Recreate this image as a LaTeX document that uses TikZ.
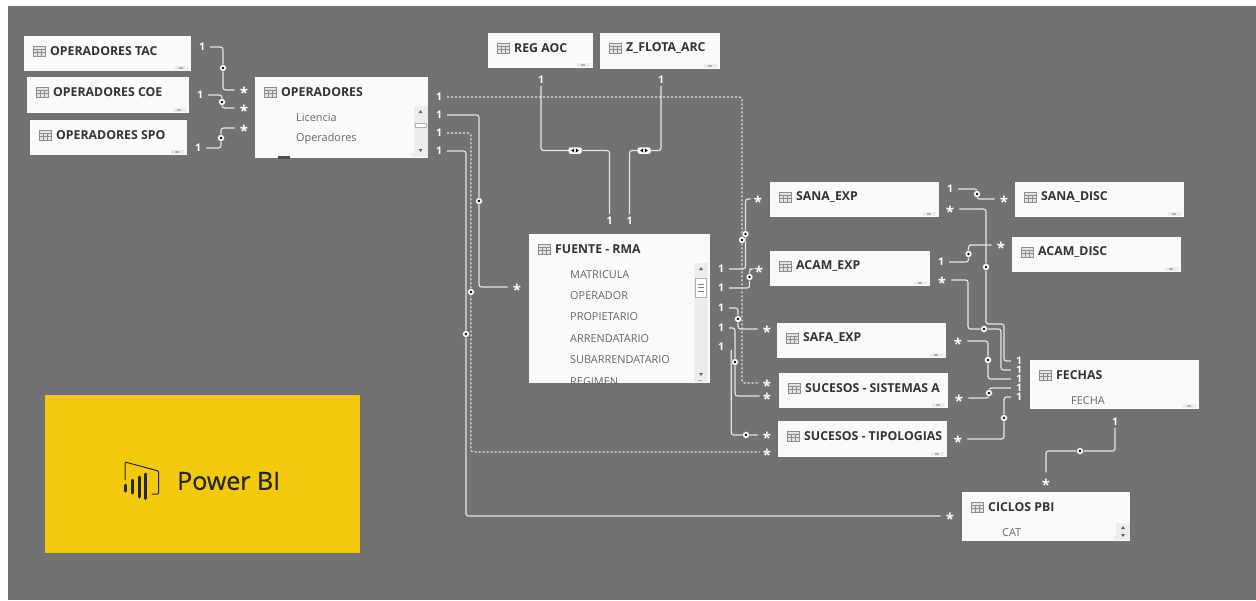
\documentclass[tikz,border=0pt]{standalone}
\usepackage{fontspec}
\setmainfont{Open Sans}
\newfontfamily\pbifont[FakeBold=0.5]{Open Sans}
\definecolor{bggray}{HTML}{727272}
\definecolor{cardw}{HTML}{FAFAFA}
\definecolor{titlec}{HTML}{333333}
\definecolor{fieldc}{HTML}{666666}
\definecolor{pbiy}{HTML}{F2C90F}
\definecolor{linec}{HTML}{E4E4E4}
\definecolor{iconc}{HTML}{8E8E8E}
\newcommand{\mst}{\raisebox{-8.2pt}[0pt][0pt]{*}}
\tikzset{
  x=1pt,y=-1pt,
  cardbox/.style={fill=cardw,draw=none,inner sep=0,outer sep=0},
  cardtitle/.style={font=\fontsize{12.3}{13}\selectfont\bfseries,text=titlec,anchor=west,inner sep=0},
  fieldtext/.style={font=\fontsize{10.9}{12}\selectfont,text=fieldc,anchor=west,inner sep=0},
  rel/.style={draw=linec,line width=1.2pt,rounded corners=2.5pt},
  reldash/.style={rel,dash pattern=on 2pt off 2pt},
  one/.style={font=\fontsize{10.5}{11}\selectfont\bfseries,text=white,inner sep=0},
  many/.style={font=\fontsize{15}{10}\selectfont\bfseries,text=white,inner sep=0},
  dotm/.style={circle,draw=black!55,fill=white,line width=.4pt,minimum size=7pt,inner sep=0},
  bothm/.style={rounded corners=1.5pt,fill=white,minimum width=13pt,minimum height=6.5pt,inner sep=0},
  pbitext/.style={font=\pbifont\fontsize{25}{26}\selectfont,text=black!85,anchor=west,inner sep=0},
}
% \card{name}{x1}{y1}{x2}{y2}{title}
\newcommand{\card}[6]{%
  \node[cardbox,minimum width=#4pt-#2pt,minimum height=#5pt-#3pt,anchor=north west] (#1) at (#2,#3) {};
  \begin{scope}
    \clip (#2,#3) rectangle (#4-6,#5);
    \draw[iconc,fill=gray!22,line width=.5pt] (#2+9,#3+10) rectangle ++(12,10);
    \draw[iconc,line width=.5pt] (#2+9,#3+12.8) -- ++(12,0) (#2+9,#3+16.4) -- ++(12,0) (#2+13,#3+12.8) -- ++(0,7.2) (#2+17,#3+12.8) -- ++(0,7.2);
    \node[cardtitle] (#1t) at (#2+26,#3+15) {#6};
  \end{scope}
  \fill[gray!15] (#4-16,#5-5) rectangle ++(13,4);
  \fill[gray!60] (#4-12,#5-4) rectangle ++(4,2.4);
}
% \scrollbar{x}{y1}{y2}{thumb y}{thumb h}
\newcommand{\scrollbar}[5]{%
  \fill[gray!14] (#1,#2) rectangle (#1+14,#3);
  \fill[gray!80!black] (#1+7,#2+4) -- ++(2,3) -- ++(-4,0) -- cycle;
  \fill[gray!80!black] (#1+7,#3-4) -- ++(2,-3) -- ++(-4,0) -- cycle;
  \draw[gray!60,fill=white,line width=.5pt] (#1+1.5,#4) rectangle ++(11,#5);
}
\begin{document}
\begin{tikzpicture}
\useasboundingbox (0,0) rectangle (1256,600);
\fill[white] (0,0) rectangle (1256,600);
\fill[bggray] (8,6) rectangle (1256,600);

% Power BI tile
\node[fill=pbiy,minimum width=315pt,minimum height=158pt,inner sep=0,anchor=north west] (pbi) at (45,395) {};
\node[pbitext] (pbit) at (177,481) {Power BI};
\draw[black!85,line width=1pt,rounded corners=1pt] (125,480) -- (125,462) -- (158.5,471) -- (158.5,494) -- (151.5,494);
\foreach \xx/\ya/\yb in {125/485/491,132/480/493,139/477/497,145.7/474/498.5}{
  \draw[black!85,line width=3pt,line cap=round] (\xx,\ya) -- (\xx,\yb);}

% cards
\card{tac}{24}{36}{191}{71}{OPERADORES TAC}
\card{coe}{27}{77}{189}{113}{OPERADORES COE}
\card{spo}{30}{120}{187}{155}{OPERADORES SPO}
\card{ops}{255}{77}{428}{158}{OPERADORES}
\card{reg}{488}{33}{593}{68}{REG AOC}
\card{zfl}{600}{33}{720}{69}{Z\_FLOTA\_ARC}
\card{fue}{529}{234}{710}{383}{FUENTE - RMA}
\card{sanae}{770}{182}{939}{217}{SANA\_EXP}
\card{acame}{770}{251}{930}{286}{ACAM\_EXP}
\card{safa}{777}{323}{946}{358}{SAFA\_EXP}
\card{sist}{779}{373}{948}{408}{SUCESOS - SISTEMAS A}
\card{tipo}{778}{421}{947}{457}{SUCESOS - TIPOLOGIAS}
\card{sanad}{1015}{182}{1184}{217}{SANA\_DISC}
\card{acamd}{1012}{237}{1181}{272}{ACAM\_DISC}
\card{fech}{1030}{360}{1199}{409}{FECHAS}
\card{cic}{962}{492}{1130}{541}{CICLOS PBI}

% fields
\begin{scope}
  \clip (255,77) rectangle (428,158);
  \node[fieldtext] (f1) at (296,117.5) {Licencia};
  \node[fieldtext] (f2) at (296,139) {Operadores};
  \fill[black!70] (278,155.5) rectangle ++(12,3);
  \node[fieldtext,text=gray] (f3) at (296,163) {Plan};
\end{scope}
\begin{scope}
  \clip (529,234) rectangle (710,383);
  \node[fieldtext] (m1) at (570,274.5) {MATRICULA};
  \node[fieldtext] (m2) at (570,296) {OPERADOR};
  \node[fieldtext] (m3) at (570,317) {PROPIETARIO};
  \node[fieldtext] (m4) at (570,338.5) {ARRENDATARIO};
  \node[fieldtext] (m5) at (570,360) {SUBARRENDATARIO};
  \node[fieldtext] (m6) at (570,381.5) {REGIMEN};
\end{scope}
\node[fieldtext] (ff) at (1071,400.5) {FECHA};
\node[fieldtext] (fc) at (1002,533) {CAT};
\scrollbar{413.5}{106}{156}{123}{4}
\scrollbar{694}{263}{380}{278}{19}
\draw[gray,line width=.5pt] (698,284) -- ++(6,0) (698,287.5) -- ++(6,0) (698,291) -- ++(6,0);
\fill[gray!14] (1116,523) rectangle (1130,540);
\fill[gray!80!black] (1123,526) -- ++(2,3) -- ++(-4,0) -- cycle;
\fill[gray!80!black] (1123,537) -- ++(2,-3) -- ++(-4,0) -- cycle;

% cardinality labels
\node[one] (a1) at (202,47) {1};
\node[many] (a2) at (244,90) {\mst};
\node[one] (b1) at (200,95) {1};
\node[many] (b2) at (244,108) {\mst};
\node[one] (c1) at (198,148) {1};
\node[many] (c2) at (244,128) {\mst};
\node[one] (o1) at (439,97) {1};
\node[one] (o2) at (439,115) {1};
\node[one] (o3) at (439,133) {1};
\node[one] (o4) at (439,151) {1};
\node[many] (ot) at (517,287) {\mst};
\node[many] (sd1) at (767,383) {\mst};
\node[many] (sd2) at (767,452) {\mst};
\node[many] (cs) at (950,516) {\mst};
\node[one] (r1) at (541,80) {1};
\node[one] (r2) at (609.5,221) {1};
\node[one] (z1) at (661,80) {1};
\node[one] (z2) at (629.5,221) {1};
\node[one] (e1) at (721,269) {1};
\node[one] (e2) at (721,288) {1};
\node[one] (e3) at (721,308) {1};
\node[one] (e4) at (721,328) {1};
\node[one] (e5) at (721,347) {1};
\node[many] (t1) at (758,199) {\mst};
\node[many] (t2) at (759,269) {\mst};
\node[many] (t3) at (767,329) {\mst};
\node[many] (t4) at (767,396) {\mst};
\node[many] (t5) at (767,435) {\mst};
\node[one] (g1) at (950,189) {1};
\node[many] (g2) at (1004,199) {\mst};
\node[one] (h1) at (941,262) {1};
\node[many] (h2) at (1001,245) {\mst};
\node[many] (i1) at (950,209) {\mst};
\node[many] (j1) at (942,280) {\mst};
\node[many] (k1) at (958,341) {\mst};
\node[many] (l1) at (959,398) {\mst};
\node[many] (n1) at (958,439) {\mst};
\node[one] (i2) at (1019,361) {1};
\node[one] (j2) at (1019,370) {1};
\node[one] (k2) at (1019,379) {1};
\node[one] (l2) at (1019,388) {1};
\node[one] (n2) at (1019,397) {1};
\node[one] (p1) at (1115,422) {1};
\node[many] (p2) at (1046,482) {\mst};

% marker positions
\foreach \nm/\xx/\yy in {ma/223/68,mb/222/102,mc/221/138,md/742/240,me/479/201,mf/471/292,mg/466/334,mh/745.5/234,mi/749.5/277,mj/738/319,mk/735/362,ml/746/435,mm/977/194,mn/986/267,mo/968.5/254,mp/984/329,mq/988/360,mr/989/393,ms/1004/418,mt/1080/451,mu/575/150.5,mv/644/150.5}{
  \coordinate (\nm) at (\xx,\yy);}
\coordinate (wj1) at (968,329);
\coordinate (wj2) at (1001,329);
\coordinate (wi) at (1004,324);

% connectors
\draw[rel] ([xshift=5pt]a1.east) -| (ma) |- ([xshift=-5pt]a2.west);
\draw[rel] ([xshift=5pt]b1.east) -| (mb) |- ([xshift=-5pt]b2.west);
\draw[rel] ([xshift=5pt]c1.east) -| (mc) |- ([xshift=-5pt]c2.west);
\draw[reldash] ([xshift=5pt]o1.east) -| (md) |- ([xshift=-3pt]sd1.west);
\draw[rel] ([xshift=5pt]o2.east) -| (me) |- ([xshift=-5pt]ot.west);
\draw[reldash] ([xshift=5pt]o3.east) -| (mf) |- ([xshift=-3pt]sd2.west);
\draw[rel] ([xshift=5pt]o4.east) -| (mg) |- ([xshift=-5pt]cs.west);
\draw[rel] ([yshift=-2pt]r1.south) |- (mu) -| ([yshift=3pt]r2.north);
\draw[rel] ([yshift=-2pt]z1.south) |- (mv) -| ([yshift=3pt]z2.north);
\draw[rel] ([xshift=5pt]e1.east) -| (mh) |- ([xshift=-3pt]t1.west);
\draw[rel] ([xshift=5pt]e2.east) -| (mi) |- ([xshift=-5pt]t2.west);
\draw[rel] ([xshift=5pt]e3.east) -| (mj) |- ([xshift=-5pt]t3.west);
\draw[rel] ([xshift=5pt]e4.east) -| (mk) |- ([xshift=-3pt]t4.west);
\draw[rel] ([xshift=7pt,yshift=-3pt]e5.east) |- (ml) -- ([xshift=-5pt]t5.west);
\draw[rel] ([xshift=5pt]g1.east) -| (mm) |- ([xshift=-5pt]g2.west);
\draw[rel] ([xshift=5pt]h1.east) -| (mo) |- ([xshift=-5pt]h2.west);
\draw[rel] ([xshift=5pt]i1.east) -| (mn) |- (wi) |- ([xshift=-5pt]i2.west);
\draw[rel] ([xshift=5pt]j1.east) -| (wj1) -- (mp) -- (wj2) |- ([xshift=-5pt]j2.west);
\draw[rel] ([xshift=5pt]k1.east) -| (mq) |- ([xshift=-5pt]k2.west);
\draw[rel] ([xshift=5pt]l1.east) -| (mr) |- ([xshift=-5pt]l2.west);
\draw[rel] ([xshift=5pt]n1.east) -| (ms) |- ([xshift=-5pt]n2.west);
\draw[rel] ([yshift=-2pt]p1.south) |- (mt) -| ([yshift=9pt]p2.north);

% direction markers
\foreach \nm in {ma,mb,mc,md,me,mf,mg,mh,mi,mj,mk,ml,mm,mn,mo,mp,mq,mr,ms,mt}{
  \node[dotm] (\nm d) at (\nm) {};
  \fill[black] (\nm) circle (1.4pt);}
\foreach \nm in {mu,mv}{
  \node[bothm] (\nm d) at (\nm) {};
  \fill[black] ([xshift=-.8pt,yshift=2pt]\nm) -- ++(0,4) -- ++(-3,-2) -- cycle;
  \fill[black] ([xshift=.8pt,yshift=2pt]\nm) -- ++(0,4) -- ++(3,-2) -- cycle;}
\end{tikzpicture}
\end{document}
